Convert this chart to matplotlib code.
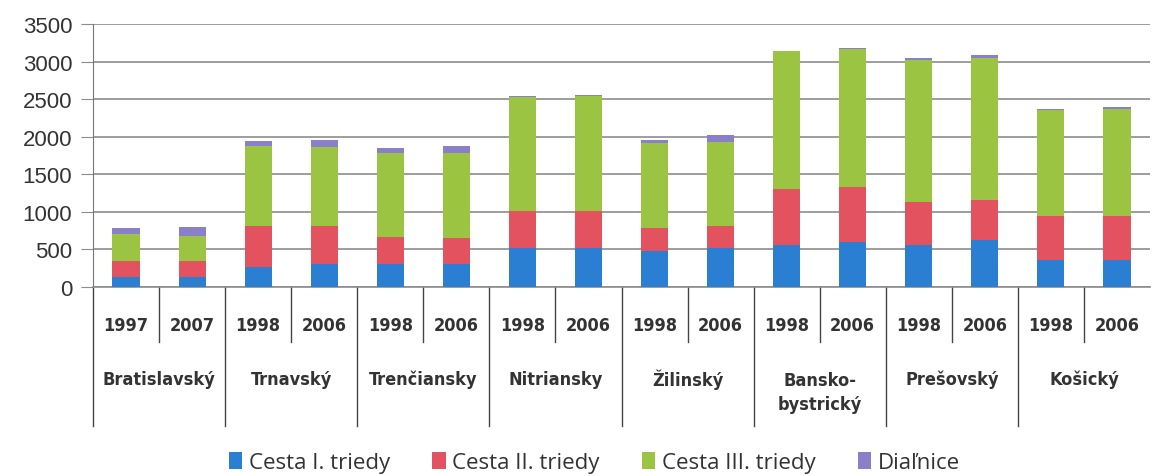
import matplotlib
matplotlib.use("Agg")
import matplotlib.pyplot as plt
import numpy as np

regions = ["Bratislavský", "Trnavský", "Trenčiansky", "Nitriansky", "Žilinský",
           "Bansko-\nbystrický", "Prešovský", "Košický"]
years = ["1997", "2007", "1998", "2006", "1998", "2006", "1998", "2006",
         "1998", "2006", "1998", "2006", "1998", "2006", "1998", "2006"]

# road lengths (km)
cesta_1 = [135, 135, 270, 300, 300, 305, 515, 515, 475, 515, 565, 605, 565, 625, 365, 365]
cesta_2 = [215, 215, 545, 515, 360, 345, 500, 500, 315, 300, 740, 720, 570, 535, 585, 585]
cesta_3 = [355, 335, 1065, 1050, 1120, 1130, 1520, 1525, 1120, 1115, 1830, 1840, 1885, 1885, 1400, 1420]
dialnice = [85, 120, 65, 90, 70, 90, 10, 10, 45, 90, 10, 10, 25, 40, 20, 20]

colors = ["#2b7fd3", "#e3525f", "#9bc442", "#8a7fc9"]
labels = ["Cesta I. triedy", "Cesta II. triedy", "Cesta III. triedy", "Diaľnice"]

W, H = 1154, 477
fig = plt.figure(figsize=(W / 100, H / 100), dpi=100)
ax = fig.add_axes([93 / W, (H - 288) / H, (1150 - 93) / W, 263 / H])

x = np.arange(len(years))
bottom = np.zeros(len(years))
for vals, c, lab in zip([cesta_1, cesta_2, cesta_3, dialnice], colors, labels):
    ax.bar(x, vals, 0.41, bottom=bottom, color=c, label=lab, zorder=3)
    bottom += np.array(vals)

ax.set_ylim(0, 3500)
ax.set_xlim(-0.5, len(years) - 0.5)
ax.set_yticks(range(0, 3501, 500))
ax.yaxis.grid(True, color="#8c8c8c", linewidth=1.2, zorder=0)
ax.tick_params(axis="y", length=9, color="#8c8c8c", labelsize=16, labelcolor="#333333", pad=6)
for t in ax.get_yticklabels():
    t.set_fontfamily("Liberation Sans")
ax.set_xticks([])
for s in ["top", "right"]:
    ax.spines[s].set_visible(False)
ax.spines["left"].set_color("#777777")
ax.spines["bottom"].set_color("#8c8c8c")
ax.spines["bottom"].set_linewidth(1.2)

# multi-level category axis
tr = ax.get_xaxis_transform()
lbl = dict(fontsize=13, fontweight="bold", color="#333333", family="DejaVu Sans",
           fontstretch="condensed")
for i, y in enumerate(years):
    ax.text(i, -0.145, y, transform=tr, ha="center", va="center", **lbl)
    if i % 2 == 1:
        ax.plot([i - 0.5, i - 0.5], [0, -0.21], transform=tr, color="#444444",
                linewidth=1, clip_on=False)
for k, r in enumerate(regions):
    ax.text(2 * k + 0.5, -0.35 if "\n" not in r else -0.40, r, transform=tr,
            ha="center", va="center", linespacing=1.45, **lbl)
    ax.plot([2 * k - 0.5, 2 * k - 0.5], [0, -0.53], transform=tr, color="#444444",
            linewidth=1, clip_on=False)

fig.legend(loc="center", bbox_to_anchor=(0.515, 0.028), ncol=4, frameon=False,
           handlelength=0.6, handleheight=0.75, handletextpad=0.3,
           columnspacing=1.9, labelcolor="#333333",
           prop={"family": "Open Sans", "size": 16})

fig.savefig("out.png", dpi=100)
